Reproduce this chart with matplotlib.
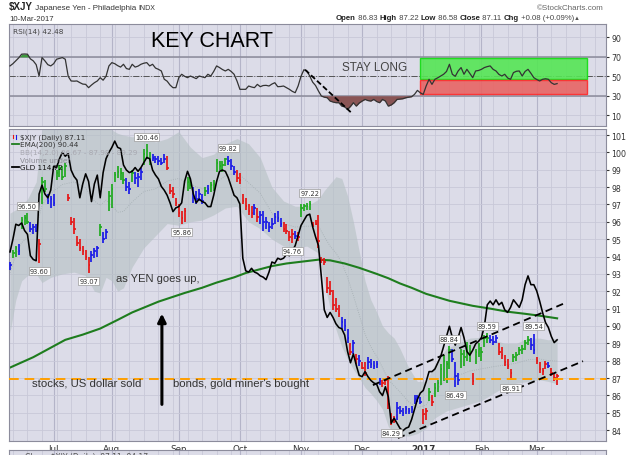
import numpy as np
import matplotlib
matplotlib.use("Agg")
import matplotlib.pyplot as plt
from matplotlib.patches import Rectangle

W, H = 640, 456

# -----------------------
# 1. Data (x = trading day, 0 = 10-Jun-2016)
# -----------------------
months = ["Jul", "Aug", "Sep", "Oct", "Nov", "Dec", "2017", "Feb", "Mar"]
month_day = [15, 35, 58, 79, 100, 121, 142, 162, 181]

yen_lo = [93.2, 93.9, 94.0, 94.1, 95.6, 95.8, 95.9, 95.4, 95.3, 95.4,
          93.6, 97.0, 97.7, 97.0, 96.8, 96.9, 98.4, 98.6, 98.4, 98.6,
          97.2, 95.8, 95.3, 94.6, 94.3, 94.1, 93.8, 93.07, 93.7, 93.9,
          94.0, 95.2, 94.8, 95.0, 96.6, 96.8, 98.3, 98.5, 98.4, 98.2,
          97.8, 97.6, 98.3, 98.2, 98.0, 98.4, 99.3, 99.6, 99.3, 99.5,
          99.4, 99.3, 99.3, 99.4, 99.0, 97.6, 97.4, 96.9, 96.3, 95.86,
          96.0, 97.8, 97.9, 97.1, 97.0, 97.2, 97.0, 97.5, 97.6, 97.7,
          97.8, 98.9, 99.0, 98.9, 99.2, 99.3, 99.0, 98.7, 98.3, 98.2,
          97.0, 96.7, 96.4, 96.2, 96.4, 96.0, 95.9, 95.5, 95.6, 95.4,
          95.6, 95.9, 96.0, 95.7, 95.4, 95.3, 94.9, 94.76, 95.0, 94.9,
          96.3, 96.6, 96.7, 96.7, 95.7, 95.8, 94.5, 93.6, 93.5, 91.9,
          91.8, 90.9, 90.8, 90.5, 89.8, 89.7, 89.0, 88.3, 88.4, 87.8,
          87.7, 87.5, 87.1, 87.5, 87.6, 87.5, 87.6, 86.6, 86.5, 86.6,
          85.2, 84.29, 84.4, 84.6, 84.9, 84.8, 84.9, 84.9, 85.0, 85.5,
          85.6, 85.5, 84.35, 84.6, 85.7, 85.4, 85.9, 86.2, 86.6, 86.8,
          86.7, 87.5, 87.9, 86.49, 86.6, 87.6, 87.7, 88.0, 87.9, 86.6,
          87.8, 88.2, 88.0, 88.8, 89.0, 89.0, 88.9, 89.0, 88.3, 88.1,
          87.7, 87.5, 86.91, 87.9, 88.0, 88.3, 88.4, 88.6, 88.9, 88.6,
          88.4, 87.8, 87.3, 87.2, 87.5, 87.6, 87.1, 86.8, 86.58]

yen_hi = [93.7, 94.4, 94.6, 94.7, 96.3, 96.4, 96.5, 96.0, 95.9, 95.9,
          95.0, 98.6, 98.4, 97.6, 97.5, 97.6, 99.0, 99.3, 99.2, 99.4,
          97.6, 96.3, 96.2, 95.2, 95.0, 94.6, 94.4, 94.0, 94.3, 94.5,
          94.6, 95.9, 95.4, 95.6, 97.8, 98.2, 98.9, 99.2, 99.1, 98.9,
          98.5, 98.3, 99.0, 98.9, 98.8, 99.1, 100.2, 100.46, 100.0, 99.9,
          99.8, 99.8, 99.7, 99.9, 99.8, 98.2, 98.0, 97.4, 97.0, 96.6,
          96.8, 98.6, 98.5, 98.0, 97.8, 97.9, 97.6, 98.0, 98.1, 98.3,
          98.4, 99.6, 99.5, 99.5, 99.7, 99.82, 99.6, 99.2, 99.0, 98.8,
          97.6, 97.4, 97.0, 96.9, 97.0, 96.8, 96.6, 96.6, 96.3, 96.0,
          96.2, 96.5, 96.6, 96.2, 96.0, 95.9, 95.5, 95.6, 95.5, 95.4,
          97.0, 97.0, 97.1, 97.22, 96.0, 96.1, 96.4, 94.0, 93.9, 92.8,
          92.6, 92.1, 91.6, 91.2, 90.5, 90.4, 89.8, 89.0, 89.2, 88.4,
          88.3, 87.9, 87.9, 88.2, 88.1, 88.0, 88.0, 87.0, 86.9, 87.0,
          87.1, 85.0, 84.8, 85.6, 85.4, 85.3, 85.4, 85.3, 85.4, 86.0,
          86.0, 85.9, 85.2, 85.3, 86.4, 86.0, 86.7, 86.9, 87.8, 88.3,
          88.0, 88.84, 88.7, 87.9, 87.3, 88.7, 88.6, 89.1, 88.9, 87.3,
          88.7, 89.0, 88.8, 89.5, 89.59, 89.5, 89.4, 89.5, 89.0, 88.8,
          88.3, 88.1, 87.5, 88.4, 88.5, 88.8, 88.9, 89.2, 89.4, 89.3,
          89.54, 88.2, 87.9, 87.6, 88.0, 87.9, 87.6, 87.3, 87.22]

yen_close = [93.5, 94.2, 94.5, 94.3, 96.1, 96.2, 96.0, 95.6, 95.7, 95.5,
             94.7, 98.3, 97.9, 97.2, 97.3, 97.1, 98.8, 99.1, 98.6, 99.2,
             97.4, 96.0, 95.6, 94.8, 94.5, 94.3, 94.0, 93.5, 94.1, 94.3,
             94.5, 95.7, 95.0, 95.4, 97.5, 97.9, 98.7, 98.9, 98.8, 98.4,
             98.0, 97.9, 98.8, 98.5, 98.6, 98.9, 99.9, 100.1, 99.6, 99.7,
             99.6, 99.5, 99.4, 99.6, 99.1, 97.8, 97.6, 97.1, 96.5, 96.2,
             96.6, 98.3, 98.1, 97.4, 97.3, 97.6, 97.2, 97.8, 97.9, 98.1,
             98.2, 99.4, 99.2, 99.3, 99.6, 99.5, 99.2, 98.9, 98.5, 98.4,
             97.2, 96.9, 96.6, 96.5, 96.8, 96.3, 96.4, 96.0, 96.0, 95.7,
             95.9, 96.3, 96.2, 95.9, 95.6, 95.5, 95.1, 95.3, 95.2, 95.1,
             96.8, 96.9, 96.9, 97.0, 95.8, 95.9, 94.9, 93.8, 93.7, 92.2,
             92.0, 91.2, 91.0, 90.7, 90.2, 90.0, 89.3, 88.5, 89.0, 88.1,
             88.0, 87.6, 87.3, 87.9, 87.8, 87.7, 87.8, 86.8, 86.7, 86.9,
             85.5, 84.6, 84.5, 85.3, 85.1, 85.0, 85.2, 85.1, 85.2, 85.8,
             85.9, 85.6, 84.9, 85.1, 86.2, 85.6, 86.4, 86.7, 87.5, 88.0,
             87.8, 88.6, 88.1, 87.1, 86.9, 88.4, 88.2, 88.8, 88.5, 86.8,
             88.5, 88.7, 88.5, 89.3, 89.3, 89.2, 89.1, 89.3, 88.5, 88.3,
             87.9, 87.7, 87.3, 88.2, 88.3, 88.6, 88.7, 89.0, 89.2, 88.9,
             88.6, 88.0, 87.5, 87.4, 87.8, 87.7, 87.3, 87.0, 87.11]

# G = green, B = blue, R = red bar
bar_color = ("BGGBGGGBBB" "RGGBBBGGGG" "RRRRRRRRBB" "BGBBGGGGGG" "BBGBBBGGGB"
             "BBBBRRRRRR" "RGGBBBBGBG" "GGGGGBBBRR" "RRRRBRBBBB" "BBBBRRRRBR"
             "GGGGRRRRRR" "RRRRBBBRBR" "BRRBBBBBRR" "RRRBBBBBBB" "BBRRGRGGGG"
             "GGBBBGGGGR" "GGGGGBBBRR" "RRRGGGGGGB" "BRRRRBRRR")

gld = [121.7, 122.7, 123.9, 123.8, 124.0, 123.4, 123.1, 121.4, 121.1, 121.0,
       126.3, 127.0, 126.3, 126.0, 126.6, 128.5, 128.4, 129.1, 129.6, 129.3,
       129.5, 128.2, 127.7, 127.4, 126.0, 127.1, 127.9, 127.3, 125.7, 127.1,
       127.8, 126.0, 128.0, 129.1, 129.6, 130.0, 130.5, 130.0, 129.9, 128.6,
       128.2, 128.0, 128.1, 128.4, 128.1, 128.4, 128.8, 129.2, 129.1, 128.2,
       127.8, 127.5, 126.9, 126.6, 126.2, 125.6, 124.9, 125.2, 125.3, 125.6,
       127.3, 128.1, 127.5, 126.3, 125.6, 125.9, 125.7, 125.6, 125.3, 125.3,
       126.2, 127.3, 128.1, 128.2, 128.1, 127.6, 126.9, 126.2, 126.0, 125.5,
       121.2, 120.2, 120.1, 120.4, 120.1, 120.0, 119.8, 119.7, 119.5, 120.1,
       120.9, 120.8, 121.2, 121.1, 121.2, 121.5, 121.4, 121.8, 122.2, 123.0,
       123.8, 124.2, 124.6, 124.7, 123.7, 122.9, 122.2, 119.7, 117.1, 116.5,
       116.9, 116.5, 116.0, 115.7, 115.6, 115.1, 113.8, 112.9, 113.6, 112.7,
       111.9, 111.8, 112.2, 111.8, 111.5, 111.3, 111.2, 110.6, 110.3, 111.0,
       110.2, 108.1, 108.5, 108.1, 107.7, 107.5, 107.7, 107.8, 108.4, 109.2,
       110.0, 110.5, 110.7, 111.4, 112.2, 112.2, 112.4, 112.9, 113.4, 114.2,
       115.0, 115.8, 114.9, 114.3, 114.9, 115.7, 114.9, 113.8, 113.5, 113.9,
       114.4, 114.6, 114.9, 115.8, 117.5, 117.8, 117.5, 117.9, 117.5, 117.7,
       117.1, 116.9, 117.3, 117.9, 117.6, 117.3, 117.9, 119.1, 119.8, 119.1,
       119.1, 118.6, 117.8, 116.9, 116.1, 115.7, 115.0, 114.5, 114.72]

rsi = [60.7, 63.0, 66.0, 69.0, 72.8, 73.0, 72.8, 68.0, 65.9, 62.0,
       50.3, 69.3, 65.9, 62.0, 60.7, 63.0, 67.6, 68.5, 69.3, 67.6,
       50.0, 45.2, 45.0, 45.2, 43.5, 42.0, 41.7, 38.3, 41.0, 43.4,
       45.2, 48.6, 46.0, 50.0, 60.7, 64.1, 63.0, 61.0, 59.5, 62.4,
       58.0, 57.2, 62.4, 59.5, 60.5, 62.4, 63.5, 64.1, 60.7, 62.4,
       58.5, 57.2, 55.5, 47.0, 45.0, 41.0, 38.3, 38.3, 48.6, 52.1,
       50.0, 48.6, 50.3, 49.0, 47.6, 50.3, 49.5, 48.6, 52.1, 50.3,
       55.0, 60.7, 59.0, 57.0, 55.5, 57.2, 55.0, 52.1, 45.2, 36.6,
       36.6, 36.6, 40.0, 39.0, 38.3, 41.7, 39.3, 40.5, 40.7, 40.0,
       42.0, 43.4, 39.3, 39.5, 40.0, 38.3, 36.6, 34.5, 33.1, 40.0,
       50.0, 56.8, 55.5, 50.3, 44.0, 40.5, 34.8, 29.7, 28.5, 27.9,
       24.5, 23.5, 22.8, 22.8, 19.3, 18.5, 15.9, 19.0, 22.8, 19.3,
       22.5, 24.5, 26.2, 25.0, 24.5, 26.2, 24.0, 22.8, 26.2, 24.5,
       19.3, 20.5, 22.8, 26.2, 26.5, 26.9, 27.9, 28.5, 29.0, 31.4,
       35.5, 33.0, 31.4, 40.0, 46.9, 41.7, 46.9, 48.5, 50.3, 52.1,
       55.0, 62.4, 52.1, 50.0, 55.5, 59.0, 52.1, 57.2, 53.0, 48.6,
       55.5, 56.0, 57.2, 59.0, 60.0, 60.7, 57.2, 55.5, 52.0, 50.3,
       52.1, 48.3, 46.9, 53.8, 55.2, 55.5, 50.3, 55.0, 57.2, 53.1,
       48.6, 46.7, 45.2, 46.9, 47.5, 46.9, 43.4, 41.7, 42.48]

ema_day = [0, 8, 19, 25, 31, 37, 42, 51, 60, 66, 71, 77, 81, 90, 95, 100,
           106, 110, 115, 120, 126, 130, 134, 138, 143, 151, 159, 165, 171, 177, 182, 188]
ema_val = [87.6, 88.2, 89.2, 89.5, 89.85, 90.35, 90.78, 91.4, 91.9, 92.2, 92.5, 92.8,
           93.05, 93.45, 93.6, 93.7, 93.82, 93.78, 93.6, 93.35, 93.0, 92.75, 92.45,
           92.2, 91.85, 91.45, 91.16, 91.0, 90.82, 90.7, 90.59, 90.44]

bb_day = [0, 2, 4, 6, 9, 11, 14, 18, 22, 26, 29, 31, 33, 35, 37, 39, 42, 46, 50, 54,
          58, 62, 66, 70, 74, 78, 82, 86, 90, 94, 98, 102, 106, 108, 110, 112, 114,
          116, 118, 120, 122, 124, 126, 128, 130, 132, 134, 137, 140, 143, 146, 150,
          154, 158, 162, 166, 170, 174, 178, 182, 185, 188]
bb_upper = [96.5, 96.7, 97.0, 97.3, 98.3, 101.4, 102.5, 103.3, 103.5, 103.0,
            102.4, 102.0, 101.7, 101.3, 101.1, 101.0, 100.9, 101.0, 100.6, 100.8,
            101.2, 100.3, 99.7, 99.9, 100.5, 100.8, 100.5, 99.7, 98.0, 97.2,
            96.9, 96.9, 97.3, 97.8, 98.2, 98.6, 98.5, 97.5, 96.0, 94.3,
            92.6, 91.5, 90.8, 90.0, 89.6, 89.3, 88.7, 87.6, 86.8, 86.8,
            87.8, 88.7, 89.0, 89.3, 89.35, 89.2, 89.0, 89.0, 89.3, 89.3,
            89.2, 89.29]
bb_lower = [89.6, 91.5, 92.6, 92.9, 93.0, 92.5, 92.8, 93.0, 93.1, 92.9,
            92.0, 91.9, 92.8, 92.6, 92.0, 92.2, 93.4, 94.5, 95.2, 95.9,
            95.8, 96.0, 96.1, 96.4, 96.8, 96.9, 96.0, 95.6, 95.0, 94.6,
            94.5, 94.6, 94.2, 92.5, 91.0, 89.8, 88.8, 88.1, 87.5, 87.0,
            86.45, 86.1, 85.7, 85.2, 84.2, 83.8, 83.7, 83.65, 83.8, 84.1,
            84.7, 85.1, 85.3, 85.5, 85.7, 86.1, 86.5, 86.7, 86.8, 86.9,
            86.8, 86.67]

peak_day = [6, 10, 47, 27, 59, 75, 103, 97, 131, 151, 153, 164, 180, 172]
peak_val = [96.50, 93.60, 100.46, 93.07, 95.86, 99.82, 97.22, 94.76, 84.29,
            88.84, 86.49, 89.59, 89.54, 86.91]
peak_side = ["hi", "lo", "hi", "lo", "lo", "hi", "hi", "lo", "lo", "hi", "lo", "hi", "hi", "lo"]

assert len(yen_lo) == len(yen_hi) == len(yen_close) == len(bar_color) == len(gld) == len(rsi)
assert len(bb_day) == len(bb_upper) == len(bb_lower)

# -----------------------
# 2. Layout
# -----------------------
BG = "#dcdce8"
GRID = "#c8c8d8"
SANS = "Liberation Sans"
plt.rcParams["font.family"] = "DejaVu Sans"

fig = plt.figure(figsize=(6.4, 4.56), dpi=100)


def rect(x0, y0, x1, y1):
    return [x0 / W, 1 - y1 / H, (x1 - x0) / W, (y1 - y0) / H]


def fpos(x, y):
    return x / W, 1 - y / H


ax_rsi = fig.add_axes(rect(9, 25, 606, 127), facecolor=BG)
ax = fig.add_axes(rect(9, 130, 606, 442), facecolor=BG)
ax_bot = fig.add_axes(rect(9, 451, 606, 490), facecolor=BG)

days = np.arange(len(yen_close))
week_days = np.arange(1, 205, 5)
for a in (ax_rsi, ax, ax_bot):
    a.set_xlim(-0.34, 204.8)
    a.set_xticks(month_day)
    a.set_xticks(week_days, minor=True)
    a.grid(axis="x", which="minor", color=GRID, lw=0.6)
    a.grid(axis="x", which="major", color="#b4b4c8", lw=0.8)
    a.set_axisbelow(True)
    for s in a.spines.values():
        s.set_color("#8c8c9c")
        s.set_linewidth(0.8)
    a.tick_params(axis="x", which="both", length=0)
ax_rsi.tick_params(axis="x", labelbottom=False)
ax_bot.tick_params(axis="both", labelbottom=False, labelleft=False, length=0)
ax_bot.set_yticks([])

# -----------------------
# 3. RSI panel
# -----------------------
rsi_a = np.array(rsi)
ax_rsi.set_ylim(-1.2, 103.9)
ax_rsi.set_yticks([10, 30, 50, 70, 90])
ax_rsi.yaxis.tick_right()
ax_rsi.tick_params(axis="y", length=2, pad=2, labelsize=5.7, colors="#333333")
ax_rsi.grid(axis="y", color=GRID, lw=0.6)
ax_rsi.axhline(70, color="#8a8a9a", lw=1.1)
ax_rsi.axhline(30, color="#8a8a9a", lw=1.1)
ax_rsi.axhline(50, color="#555555", lw=0.7, ls="-.")
ax_rsi.add_patch(Rectangle((140.9, 47.5), 57.4, 21.7, facecolor="#55e655",
                           edgecolor="#11dd11", lw=1.0, alpha=0.9, zorder=2))
ax_rsi.add_patch(Rectangle((140.9, 31.4), 57.4, 14.5, facecolor="#e86464",
                           edgecolor="#ff2a2a", lw=1.0, alpha=0.9, zorder=2))
ax_rsi.fill_between(days, rsi_a, 30, where=rsi_a < 30, interpolate=True,
                    color="#8a5555", lw=0, zorder=3)
ax_rsi.fill_between(days, rsi_a, 70, where=rsi_a > 70, interpolate=True,
                    color="#3c9a3c", lw=0, zorder=3)
ax_rsi.plot(days, rsi_a, color="#333333", lw=0.9, zorder=4)
ax_rsi.plot([101.4, 117.4], [56.8, 12.2], color="black", lw=1.3, ls=(0, (3, 1.5)), zorder=5)
ax_rsi.text(0.006, 0.965, "RSI(14) 42.48", transform=ax_rsi.transAxes, fontsize=5.3,
            color="#444444", va="top", ha="left")

# -----------------------
# 4. Price panel
# -----------------------
ax.set_ylim(83.37, 101.35)
ax.set_yticks(range(84, 102))
ax.grid(axis="y", color=GRID, lw=0.6)
ax.set_xticklabels(months, fontsize=6.3, color="#333333")
ax.tick_params(axis="x", pad=2)
ax.get_xticklabels()[6].set_fontweight("bold")

# Bollinger band
mid = (np.array(bb_upper) + np.array(bb_lower)) / 2
ax.fill_between(bb_day, bb_lower, bb_upper, color="#b5c0c3", alpha=0.6, lw=0, zorder=1)
ax.plot(bb_day, mid, color="#a4aeb2", lw=0.6, ls=":", zorder=1.5)

# EMA(200)
ax.plot(ema_day, ema_val, color="#1e7d1e", lw=1.5, zorder=2)

# price bars
cmap = {"G": "#1faa1f", "B": "#1a1ae6", "R": "#e61414"}
cols = [cmap[c] for c in bar_color]
ax.vlines(days, yen_lo, yen_hi, colors=cols, lw=1.25, zorder=3)
ax.hlines(yen_close, days, days + 0.55, colors=cols, lw=1.2, zorder=3)

# annotations
ax.axhline(86.95, color="#ff9f00", lw=1.4, ls=(0, (5, 3)), zorder=4)
ax.plot([124.7, 191.4], [86.59, 91.37], color="black", lw=1.3, ls=(0, (4, 2.5)), zorder=4)
ax.plot([133.3, 196.9], [83.54, 87.97], color="black", lw=1.3, ls=(0, (4, 2.5)), zorder=4)
ax.annotate("", xy=(52.2, 90.87), xytext=(52.2, 85.32),
            arrowprops=dict(arrowstyle="-|>", color="black", lw=2.2, mutation_scale=12),
            zorder=5)

# GLD overlay (twinx moves the host's ticks to the left, so put them back)
ax_g = ax.twinx()
ax_g.set_ylim(106.69, 131.46)
ax_g.set_yticks([])
for s in ax_g.spines.values():
    s.set_visible(False)
ax.yaxis.tick_right()
ax.tick_params(axis="y", length=2, pad=2, labelsize=5.7, colors="#333333",
               left=False, labelleft=False, right=True, labelright=True)
ax_g.plot(days, gld, color="black", lw=1.15, zorder=3)

for d, v, side in zip(peak_day, peak_val, peak_side):
    off = (0, 3.2) if side == "hi" else (0, -3.6)
    ax_g.annotate(f"{v:.2f}", xy=(d, v), xycoords=ax.transData, xytext=off,
                  textcoords="offset points", ha="center",
                  va="bottom" if side == "hi" else "top", fontsize=4.8, color="#333333",
                  bbox=dict(boxstyle="square,pad=0.15", fc="white", ec="#9a9a9a", lw=0.5),
                  zorder=6)

# legend of the price panel
legend_rows = [("$XJY (Daily) 87.11", "#333333", None),
               ("EMA(200) 90.44", "#333333", "#1e7d1e"),
               ("BB(14,2.0) 86.67 - 87.98 - 89.29", "#a8a8b0", None),
               ("Volume undef", "#8c8c94", None),
               ("GLD 114.72", "#111111", "black")]
for k, (txt, tc, lc) in enumerate(legend_rows):
    ypx = 137.3 + 7.75 * k
    fy = (442 - ypx) / 312
    ax_g.text((20.5 - 9) / 597, fy, txt, transform=ax_g.transAxes, fontsize=5.2,
              color=tc, va="center", ha="left", zorder=7)
    if lc is not None:
        ax_g.plot([(12 - 9) / 597, (19 - 9) / 597], [fy, fy], transform=ax_g.transAxes,
                  color=lc, lw=1.3, zorder=7)
ax_g.plot([(13 - 9) / 597] * 2, [(442 - 139) / 312, (442 - 135.5) / 312],
          transform=ax_g.transAxes, color="#e61414", lw=0.8)
ax_g.plot([(15.5 - 9) / 597] * 2, [(442 - 140) / 312, (442 - 136) / 312],
          transform=ax_g.transAxes, color="#1a1ae6", lw=0.8)

# -----------------------
# 5. Free text
# -----------------------
fig.text(*fpos(212, 41.5), "KEY CHART", family=SANS, fontsize=15.5, ha="center",
         va="center", color="black")
fig.text(*fpos(375, 68), "STAY LONG", family=SANS, fontsize=8.5, ha="center",
         va="center", color="#444444")
fig.text(*fpos(157.5, 279), "as YEN goes up,", family=SANS, fontsize=8, ha="center",
         va="center", color="#333333")
fig.text(*fpos(32, 384), "stocks, US dollar sold", family=SANS, fontsize=8.2, ha="left",
         va="center", color="#333333")
fig.text(*fpos(173, 384), "bonds, gold miner's bought", family=SANS, fontsize=8.2,
         ha="left", va="center", color="#333333")


def chain(first, pieces):
    prev = first
    for s, kw in pieces:
        prev = ax_rsi.annotate(s, xy=(1, 0), xycoords=prev, va="bottom", ha="left",
                               family=SANS, annotation_clip=False, **kw)
    return prev


t0 = fig.text(*fpos(9, 12), "$XJY", family=SANS, fontsize=7, weight="bold",
              va="bottom", ha="left", color="#222222")
chain(t0, [(" Japanese Yen - Philadelphia ", dict(fontsize=5.8, color="#333333")),
           ("INDX", dict(fontsize=5, color="#333333"))])
fig.text(*fpos(9, 19.5), "10-Mar-2017", family=SANS, fontsize=5.6, va="center",
         ha="left", color="#333333")
fig.text(*fpos(604, 8.5), "\u00a9StockCharts.com", family=SANS, fontsize=5.8,
         va="center", ha="right", color="#666666")

B = dict(fontsize=5.55, weight="bold", color="#222222")
N = dict(fontsize=5.55, color="#444444")
t1 = fig.text(*fpos(336, 21.5), "Open", family=SANS, va="bottom", ha="left", **B)
chain(t1, [(" 86.83 ", N), ("High", B), (" 87.22 ", N), ("Low", B), (" 86.58 ", N),
           ("Close", B), (" 87.11 ", N), ("Chg", B), (" +0.08 (+0.09%)", N),
           ("\u25b2", dict(fontsize=4.3, color="#555555"))])

fig.text(*fpos(25, 453.5), "Close  $XJY (Daily)  87.11  84.17", fontsize=5.5,
         va="top", ha="left", color="#555555")

plt.savefig("out.png", dpi=100)
